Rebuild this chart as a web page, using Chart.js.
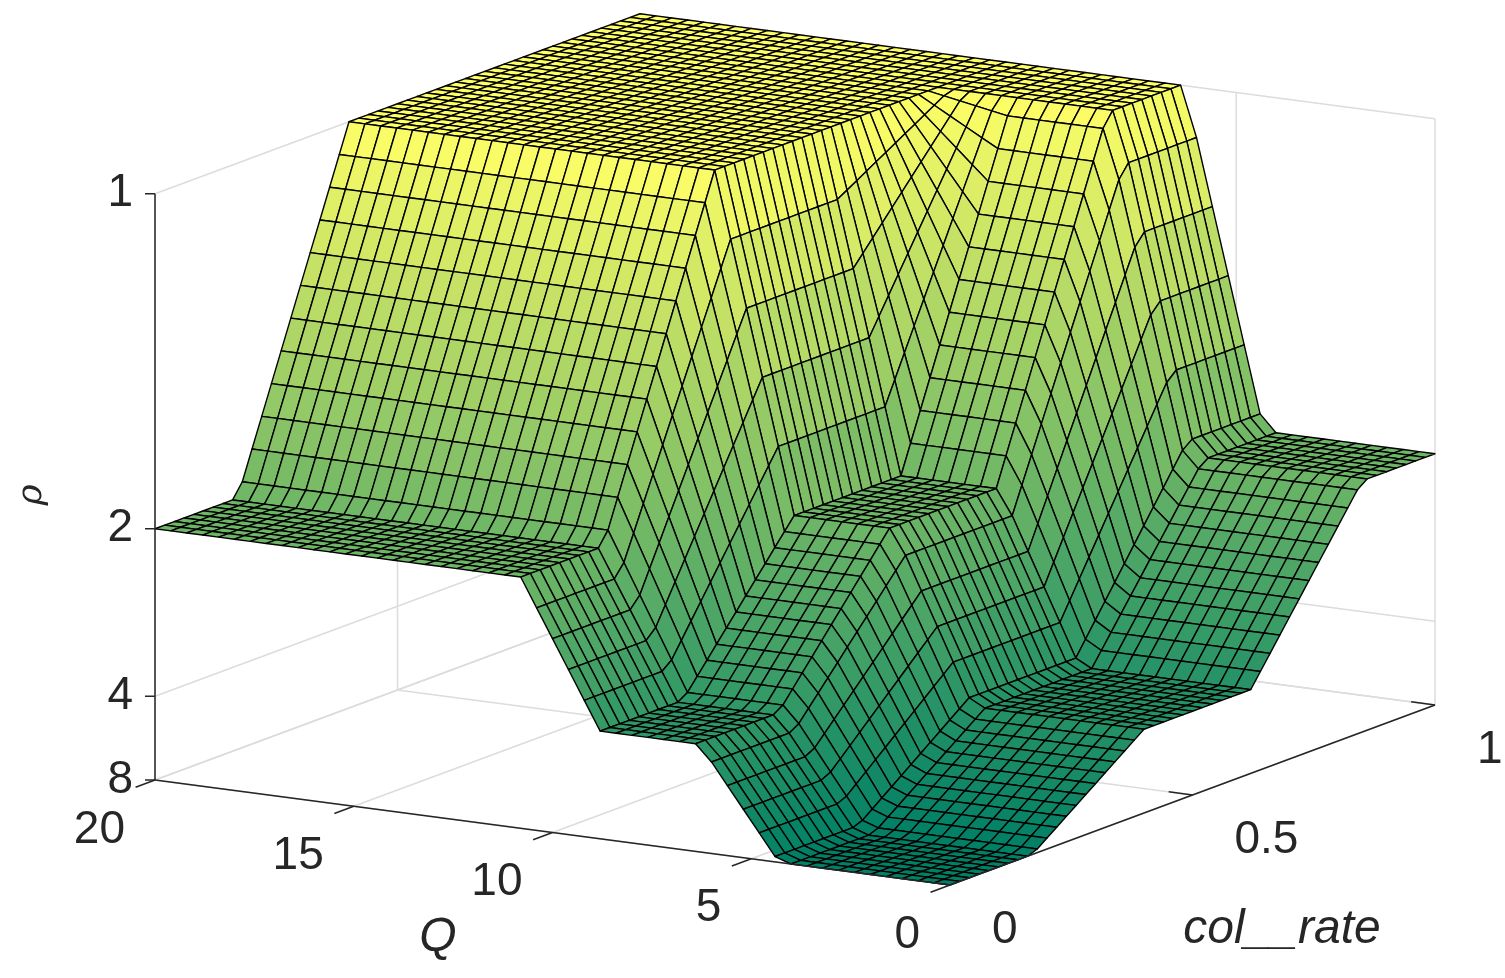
<!DOCTYPE html>
<html>
<head>
<meta charset="utf-8">
<script src="https://cdn.jsdelivr.net/npm/chart.js@4"></script>
<style>
  html, body { margin: 0; padding: 0; background: #fff; }
  #wrap { width: 1505px; height: 978px; }
</style>
</head>
<body>
<div id="wrap"><canvas id="c" width="1505" height="978"></canvas></div>
<script>
// knots of the surface
const qKnots = [0, 4.3, 6.3, 8.8, 10.8, 20];
const rateKnots = [0, 0.17, 0.4, 0.62, 0.85, 1];
// rho at each (Q knot, rate knot)
const rhoTable = [
    [8, 8, 4, 4, 2, 2],
    [8, 8, 4, 4, 2, 2],
    [3.5, 3.5, 2, 2, 1, 1],
    [3.5, 3.5, 2, 2, 1, 1],
    [2, 2, 1, 1, 1, 1],
    [2, 2, 1, 1, 1, 1]
];
const rhoTicks = [1, 2, 4, 8];
const qTicks = [20, 15, 10, 5, 0];
const rateTicks = [0, 0.5, 1];
const meshN = 50;

// view: ground origin (Q=0, rate=0, z=zMin) and axis vectors, in chart units
const origin = { x: 950, y: 885 };
const qVec = { x: -39.75, y: -5.25 };
const rVec = { x: 485, y: -180 };
const zPerUnit = 670;
const zMin = 0.125, zMax = 1;

function seg(knots, v) {
    for (let i = 0; i < knots.length - 1; i++) {
        if (v <= knots[i + 1]) return [i, (v - knots[i]) / (knots[i + 1] - knots[i])];
    }
    return [knots.length - 2, 1];
}
function zAt(q, r) {
    const [i, tq] = seg(qKnots, q);
    const [j, tr] = seg(rateKnots, r);
    const z = (a, b) => 1 / rhoTable[a][b];
    return (1 - tq) * ((1 - tr) * z(i, j) + tr * z(i, j + 1)) +
        tq * ((1 - tr) * z(i + 1, j) + tr * z(i + 1, j + 1));
}

function proj(chart, q, r, z) {
    const px = origin.x + q * qVec.x + r * rVec.x;
    const py = origin.y + q * qVec.y + r * rVec.y - (z - zMin) * zPerUnit;
    return [chart.scales.x.getPixelForValue(px), chart.scales.y.getPixelForValue(py)];
}

function summer(t) {
    t = Math.max(0, Math.min(1, t));
    return `rgb(${Math.round(255 * t)},${Math.round(255 * (0.5 + 0.5 * t))},102)`;
}

const surfacePlugin = {
    id: 'surface',
    afterDatasetsDraw(chart) {
        const ctx = chart.ctx;
        const P = (q, r, z) => proj(chart, q, r, z);
        const line = (a, b) => { ctx.beginPath(); ctx.moveTo(a[0], a[1]); ctx.lineTo(b[0], b[1]); ctx.stroke(); };
        ctx.save();

        // back walls grid
        ctx.strokeStyle = '#dcdcdc';
        ctx.lineWidth = 1.5;
        rhoTicks.forEach(rho => {
            const z = 1 / rho;
            line(P(20, 0, z), P(20, 1, z));
            line(P(20, 1, z), P(0, 1, z));
        });
        rateTicks.forEach(r => {
            line(P(20, r, zMin), P(20, r, zMax));
            line(P(20, r, zMin), P(0, r, zMin));
        });
        qTicks.forEach(q => {
            line(P(q, 1, zMin), P(q, 1, zMax));
            line(P(q, 0, zMin), P(q, 1, zMin));
        });

        // surface cells, far to near
        const cells = [];
        for (let i = 0; i < meshN; i++) {
            for (let j = 0; j < meshN; j++) {
                const q0 = 20 * i / meshN, q1 = 20 * (i + 1) / meshN;
                const r0 = j / meshN, r1 = (j + 1) / meshN;
                const zs = [zAt(q0, r0), zAt(q1, r0), zAt(q1, r1), zAt(q0, r1)];
                const depth = -(qVec.y * (q0 + q1) / 2 + rVec.y * (r0 + r1) / 2);
                cells.push({ q0, q1, r0, r1, zs, depth });
            }
        }
        cells.sort((a, b) => b.depth - a.depth);
        ctx.lineWidth = 1.4;
        ctx.strokeStyle = '#000';
        ctx.lineJoin = 'round';
        cells.forEach(c => {
            const pts = [P(c.q0, c.r0, c.zs[0]), P(c.q1, c.r0, c.zs[1]), P(c.q1, c.r1, c.zs[2]), P(c.q0, c.r1, c.zs[3])];
            const zAvg = (c.zs[0] + c.zs[1] + c.zs[2] + c.zs[3]) / 4;
            ctx.beginPath();
            pts.forEach((p, k) => k ? ctx.lineTo(p[0], p[1]) : ctx.moveTo(p[0], p[1]));
            ctx.closePath();
            ctx.fillStyle = summer((zAvg - zMin) / (zMax - zMin));
            ctx.fill();
            ctx.stroke();
        });

        // axes
        ctx.strokeStyle = '#262626';
        ctx.lineWidth = 1.5;
        line(P(20, 0, zMin), P(20, 0, zMax));
        line(P(20, 0, zMin), P(0, 0, zMin));
        line(P(0, 0, zMin), P(0, 1, zMin));
        ctx.fillStyle = '#262626';
        ctx.font = '46px "Liberation Sans", Arial, sans-serif';
        ctx.textAlign = 'right';
        ctx.textBaseline = 'middle';
        rhoTicks.forEach(rho => {
            const p = P(20, 0, 1 / rho);
            line(p, [p[0] - 10, p[1]]);
            ctx.fillText(String(rho), p[0] - 22, p[1]);
        });
        qTicks.forEach(q => {
            const p = P(q, 0, zMin);
            const p2 = P(q, -0.04, zMin);
            line(p, p2);
            ctx.textAlign = 'right';
            ctx.fillText(String(q), p[0] - 30, p[1] + 50);
        });
        rateTicks.forEach(r => {
            const p = P(0, r, zMin);
            const p2 = P(0.6, r, zMin);
            line(p, p2);
            ctx.textAlign = 'left';
            ctx.fillText(String(r), p[0] + 42, p[1] + 45);
        });
        ctx.font = 'italic 48px "Liberation Sans", Arial, sans-serif';
        ctx.textAlign = 'center';
        ctx.fillText('Q', chart.scales.x.getPixelForValue(438), chart.scales.y.getPixelForValue(938));
        ctx.fillText('col__rate', chart.scales.x.getPixelForValue(1282), chart.scales.y.getPixelForValue(930));
        ctx.save();
        ctx.translate(chart.scales.x.getPixelForValue(32), chart.scales.y.getPixelForValue(495));
        ctx.rotate(-Math.PI / 2);
        ctx.font = 'italic 36px "DejaVu Serif", serif';
        ctx.fillText('ρ', 0, 0);
        ctx.restore();
        ctx.restore();
    }
};

new Chart(document.getElementById('c'), {
    type: 'scatter',
    data: { datasets: [{ data: [], pointRadius: 0 }] },
    options: {
        responsive: false,
        devicePixelRatio: 1,
        animation: false,
        layout: { padding: 0 },
        plugins: { legend: { display: false }, tooltip: { enabled: false } },
        scales: {
            x: { type: 'linear', min: 0, max: 1505, display: false },
            y: { type: 'linear', min: 0, max: 978, reverse: true, display: false }
        }
    },
    plugins: [surfacePlugin]
});
</script>
</body>
</html>
